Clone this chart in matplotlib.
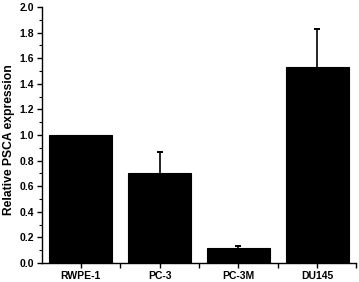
import matplotlib
matplotlib.use("Agg")
import matplotlib.pyplot as plt
from matplotlib.ticker import MultipleLocator, FixedLocator

categories = ["RWPE-1", "PC-3", "PC-3M", "DU145"]
values = [1.0, 0.70, 0.115, 1.53]
errors = [0.0, 0.165, 0.018, 0.30]

plt.rcParams['font.family'] = ['Liberation Sans', 'DejaVu Sans']
plt.rcParams['font.weight'] = 'bold'

fig = plt.figure(figsize=(3.59, 2.82), dpi=100)
ax = fig.add_axes([42/359, 1-263/282, (356-42)/359, (263-7)/282])

x = list(range(len(categories)))
ax.bar(x, values, width=0.8, color='black', edgecolor='black', linewidth=0.8, zorder=2)
ex = [xi for xi, e in zip(x, errors) if e > 0]
ev = [v for v, e in zip(values, errors) if e > 0]
etop = [v + e for v, e in zip(values, errors) if e > 0]
ax.vlines(ex, ev, etop, colors='black', linewidth=1.2, zorder=3)
ax.plot(ex, etop, linestyle='none', marker='_', markersize=5, markeredgewidth=1.4,
        color='black', zorder=3)
ax.set_xlim(-0.49, 3.49)
ax.set_ylim(0, 2.0)
ax.yaxis.set_major_locator(MultipleLocator(0.2))
ax.yaxis.set_minor_locator(MultipleLocator(0.1))
ax.set_xticks(x)
ax.set_xticklabels(categories, fontsize=7.5, fontweight='bold')
ax.xaxis.set_minor_locator(FixedLocator([0.5, 1.5, 2.5, 3.49]))
ax.set_yticklabels([f"{v:.1f}" for v in ax.get_yticks()], fontsize=7.5, fontweight='bold')
ax.set_ylabel("Relative PSCA expression", fontsize=8.7, fontweight='bold')
ax.yaxis.set_label_coords(-0.085, 0.48)
for s in ['top', 'right']:
    ax.spines[s].set_visible(False)
for s in ['left', 'bottom']:
    ax.spines[s].set_linewidth(1.0)
ax.tick_params(axis='both', which='major', length=3.5, width=1.0, direction='out', pad=2)
ax.tick_params(axis='both', which='minor', length=2, width=0.8, direction='out')
ax.tick_params(axis='x', which='minor', length=3.5, width=1.0)
fig.savefig("out.png", dpi=100)
